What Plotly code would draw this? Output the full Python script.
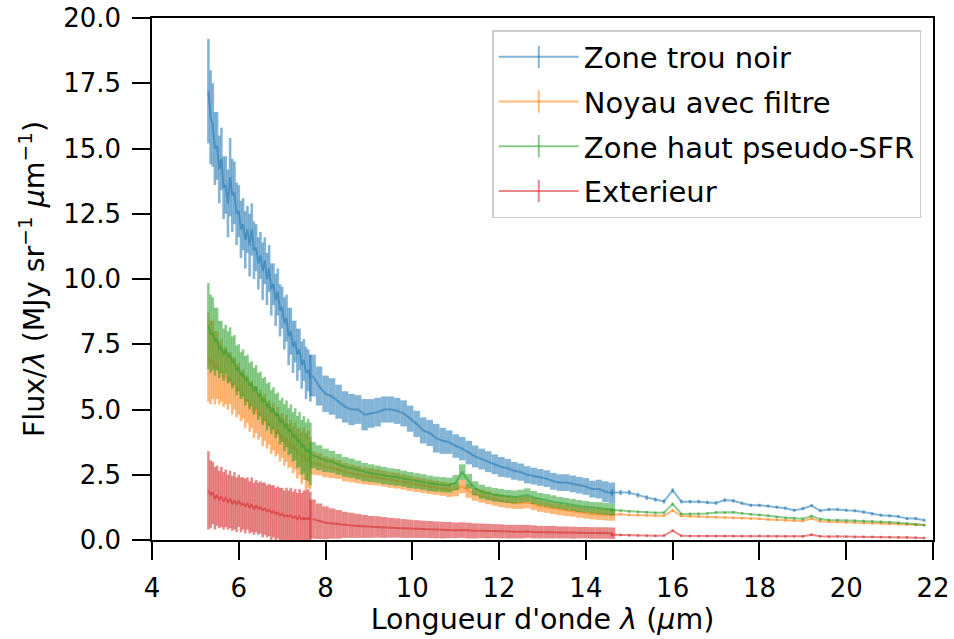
import plotly.graph_objects as go

# ---------------- data ----------------
WL1 = [5.30, 5.35, 5.40, 5.45, 5.50, 5.55, 5.60, 5.65,
       5.70, 5.75, 5.80, 5.85, 5.90, 5.95, 6.00, 6.05,
       6.10, 6.15, 6.20, 6.25, 6.30, 6.35, 6.40, 6.45,
       6.50, 6.55, 6.60, 6.65, 6.70, 6.75, 6.80, 6.85,
       6.90, 6.95, 7.00, 7.05, 7.10, 7.15, 7.20, 7.25,
       7.30, 7.35, 7.40, 7.45, 7.50, 7.55, 7.60, 7.65]

WL2 = [7.70, 7.85, 8.00, 8.15, 8.30, 8.45, 8.60, 8.75,
       8.90, 9.05, 9.20, 9.35, 9.50, 9.65, 9.80, 9.95,
       10.10, 10.25, 10.40, 10.55, 10.70, 10.85, 11.00, 11.15,
       11.30, 11.45, 11.60, 11.75, 11.90, 12.05, 12.20, 12.35,
       12.50, 12.65, 12.80, 12.95, 13.10, 13.25, 13.40, 13.55,
       13.70, 13.85, 14.00, 14.15, 14.30, 14.45, 14.60]

WL3 = [14.6,
       14.8, 15.0, 15.2, 15.4, 15.6, 15.8,
       16.0, 16.2, 16.4, 16.6, 16.8, 17.0,
       17.2, 17.4, 17.6, 17.8, 18.0, 18.2,
       18.4, 18.6, 18.8, 19.0, 19.2, 19.4,
       19.6, 19.8, 20.0, 20.2, 20.4, 20.6,
       20.8, 21.0, 21.2, 21.4, 21.6, 21.8]

# Zone trou noir
BLUE1 = [17.2, 16.2, 15.9, 15.0, 15.1, 14.2, 14.6, 13.5,
         13.6, 12.9, 13.9, 13.2, 13.3, 12.5, 12.6, 11.9,
         12.1, 11.5, 11.9, 11.3, 11.9, 11.1, 11.2, 10.6,
         10.9, 10.3, 10.7, 10.0, 10.4, 9.6, 9.8, 9.2,
         9.5, 8.8, 8.9, 8.3, 8.5, 7.8, 8.0, 7.4,
         7.6, 7.1, 7.3, 6.7, 6.9, 6.4, 6.5, 6.2]
BLUE1_ERR = [2.0, 1.8, 1.6, 1.4, 1.3, 1.3, 1.2, 1.2,
             1.1, 1.3, 1.5, 1.4, 1.2, 1.2, 1.0, 1.1,
             1.0, 1.1, 0.9, 1.2, 1.0, 1.1, 0.9, 1.0,
             0.9, 1.1, 0.9, 1.0, 0.9, 1.0, 0.8, 1.0,
             0.9, 1.0, 0.8, 1.0, 0.9, 1.1, 0.9, 1.0,
             0.8, 1.0, 0.8, 0.9, 0.8, 1.0, 0.8, 0.9]
BLUE2 = [6.3, 5.9, 5.6, 5.5, 5.3, 5.1, 5.0, 5.0,
         4.8, 4.85, 4.9, 5.0, 5.0, 4.95, 4.85, 4.65,
         4.45, 4.2, 4.1, 3.9, 3.8, 3.75, 3.6, 3.5,
         3.35, 3.2, 3.1, 3.0, 2.9, 2.8, 2.75, 2.65,
         2.6, 2.5, 2.45, 2.4, 2.35, 2.25, 2.2, 2.2,
         2.15, 2.1, 2.05, 1.95, 1.95, 1.85, 1.8]
BLUE2_ERR = [0.8, 0.75, 0.7, 0.7, 0.65, 0.6, 0.6, 0.55,
             0.6, 0.55, 0.55, 0.5, 0.5, 0.5, 0.5, 0.5,
             0.5, 0.5, 0.5, 0.55, 0.5, 0.45, 0.45, 0.45,
             0.45, 0.42, 0.4, 0.4, 0.38, 0.38, 0.36, 0.34,
             0.33, 0.33, 0.32, 0.32, 0.32, 0.32, 0.32, 0.32,
             0.32, 0.32, 0.32, 0.32, 0.36, 0.4, 0.4]
BLUE3 = [1.82,
         1.82, 1.82, 1.72, 1.62, 1.55, 1.48,
         1.90, 1.47, 1.47, 1.47, 1.44, 1.42,
         1.53, 1.50, 1.41, 1.33, 1.33, 1.30,
         1.26, 1.22, 1.14, 1.20, 1.32, 1.12,
         1.17, 1.17, 1.14, 1.12, 1.07, 1.00,
         0.95, 0.93, 0.90, 0.82, 0.82, 0.76]
BLUE3_ERR = [0.12,
             0.10, 0.10, 0.09, 0.09, 0.08, 0.08,
             0.08, 0.07, 0.07, 0.07, 0.07, 0.07,
             0.07, 0.07, 0.06, 0.06, 0.06, 0.06,
             0.06, 0.06, 0.06, 0.06, 0.06, 0.06,
             0.06, 0.06, 0.06, 0.06, 0.06, 0.06,
             0.06, 0.06, 0.06, 0.06, 0.06, 0.06]

# Noyau avec filtre
ORANGE1 = [7.0, 6.8, 6.9, 6.6, 6.7, 6.4, 6.5, 6.2,
           6.3, 6.1, 6.2, 5.9, 6.0, 5.7, 5.8, 5.5,
           5.6, 5.3, 5.4, 5.1, 5.2, 4.9, 5.0, 4.75,
           4.85, 4.55, 4.7, 4.4, 4.5, 4.2, 4.35, 4.05,
           4.2, 3.9, 4.0, 3.75, 3.9, 3.6, 3.7, 3.45,
           3.6, 3.3, 3.4, 3.15, 3.3, 3.0, 3.1, 2.95]
ORANGE1_ERR = [1.7, 1.6, 1.5, 1.4, 1.3, 1.2, 1.2, 1.1,
               1.1, 1.1, 1.0, 1.1, 1.0, 1.0, 1.0, 0.95,
               0.95, 1.0, 0.9, 0.95, 0.9, 1.0, 0.9, 0.9,
               0.9, 0.95, 0.9, 0.9, 0.85, 0.9, 0.9, 0.85,
               0.9, 0.9, 0.85, 0.9, 0.9, 0.85, 0.9, 0.9,
               0.9, 0.95, 0.9, 1.0, 1.0, 1.1, 1.1, 1.0]
ORANGE2 = [2.95, 2.9, 2.8, 2.75, 2.7, 2.6, 2.55, 2.5,
           2.45, 2.43, 2.4, 2.35, 2.3, 2.27, 2.22, 2.17,
           2.12, 2.08, 2.04, 2.0, 1.96, 1.92, 1.93, 2.05,
           1.88, 1.75, 1.68, 1.62, 1.55, 1.5, 1.46, 1.42,
           1.42, 1.45, 1.38, 1.3, 1.26, 1.21, 1.17, 1.13,
           1.1, 1.06, 1.03, 1.0, 0.99, 0.97, 0.96]
ORANGE2_ERR = [0.45, 0.42, 0.4, 0.38, 0.36, 0.35, 0.34, 0.33,
               0.32, 0.32, 0.31, 0.3, 0.3, 0.3, 0.29, 0.29,
               0.28, 0.28, 0.28, 0.27, 0.27, 0.27, 0.26, 0.26,
               0.26, 0.25, 0.25, 0.25, 0.24, 0.24, 0.24, 0.23,
               0.23, 0.23, 0.23, 0.22, 0.22, 0.22, 0.22, 0.21,
               0.21, 0.21, 0.21, 0.21, 0.22, 0.22, 0.22]
ORANGE3 = [0.98,
           0.99, 0.96, 0.95, 0.94, 0.93, 0.93,
           1.13, 0.92, 0.91, 0.90, 0.88, 0.87,
           0.86, 0.85, 0.84, 0.82, 0.81, 0.79,
           0.77, 0.75, 0.74, 0.73, 0.82, 0.72,
           0.70, 0.69, 0.68, 0.67, 0.66, 0.65,
           0.64, 0.62, 0.61, 0.60, 0.58, 0.57]
ORANGE3_ERR = [0.07,
               0.05, 0.05, 0.05, 0.05, 0.05, 0.05,
               0.05, 0.05, 0.05, 0.05, 0.05, 0.05,
               0.05, 0.05, 0.05, 0.05, 0.05, 0.05,
               0.05, 0.05, 0.05, 0.05, 0.05, 0.05,
               0.05, 0.05, 0.05, 0.05, 0.05, 0.05,
               0.05, 0.05, 0.05, 0.05, 0.05, 0.05]

# Zone haut pseudo-SFR
GREEN1 = [8.2, 7.9, 7.9, 7.6, 7.7, 7.3, 7.4, 7.1,
          7.3, 7.0, 7.1, 6.8, 6.9, 6.5, 6.6, 6.3,
          6.4, 6.1, 6.2, 5.9, 6.0, 5.7, 5.85, 5.5,
          5.6, 5.3, 5.4, 5.1, 5.2, 4.9, 5.05, 4.75,
          4.85, 4.5, 4.6, 4.3, 4.45, 4.15, 4.25, 3.95,
          4.05, 3.75, 3.85, 3.55, 3.65, 3.4, 3.45, 3.3]
GREEN1_ERR = [1.65, 1.5, 1.4, 1.3, 1.2, 1.1, 1.0, 1.0,
              0.95, 1.0, 1.05, 1.0, 0.95, 0.95, 0.9, 0.9,
              0.9, 0.95, 0.9, 0.9, 0.85, 0.9, 0.85, 0.9,
              0.85, 0.9, 0.85, 0.9, 0.85, 0.85, 0.8, 0.85,
              0.8, 0.85, 0.85, 0.9, 0.9, 0.9, 0.95, 0.95,
              1.0, 1.0, 1.05, 1.05, 1.1, 1.1, 1.2, 1.2]
GREEN2 = [3.25, 3.15, 3.05, 3.0, 2.9, 2.8, 2.75, 2.68,
          2.6, 2.56, 2.52, 2.47, 2.43, 2.4, 2.35, 2.3,
          2.26, 2.22, 2.17, 2.14, 2.12, 2.1, 2.2, 2.6,
          2.25, 1.98, 1.85, 1.78, 1.73, 1.7, 1.67, 1.65,
          1.68, 1.72, 1.63, 1.56, 1.52, 1.47, 1.42, 1.38,
          1.34, 1.3, 1.27, 1.24, 1.22, 1.19, 1.17]
GREEN2_ERR = [0.5, 0.48, 0.45, 0.42, 0.4, 0.38, 0.37, 0.36,
              0.35, 0.34, 0.33, 0.33, 0.32, 0.32, 0.31, 0.31,
              0.3, 0.3, 0.3, 0.29, 0.29, 0.29, 0.29, 0.3,
              0.28, 0.27, 0.27, 0.26, 0.26, 0.26, 0.25, 0.25,
              0.25, 0.26, 0.25, 0.24, 0.24, 0.24, 0.23, 0.23,
              0.23, 0.23, 0.22, 0.22, 0.23, 0.23, 0.23]
GREEN3 = [1.15,
          1.13, 1.09, 1.07, 1.06, 1.04, 1.05,
          1.38, 1.00, 1.00, 1.00, 1.02, 1.05,
          1.05, 1.06, 1.02, 0.98, 0.96, 0.93,
          0.88, 0.85, 0.83, 0.81, 0.92, 0.80,
          0.77, 0.77, 0.75, 0.74, 0.73, 0.71,
          0.70, 0.68, 0.66, 0.63, 0.60, 0.57]
GREEN3_ERR = [0.07,
              0.05, 0.05, 0.05, 0.05, 0.05, 0.05,
              0.05, 0.05, 0.05, 0.05, 0.05, 0.05,
              0.05, 0.05, 0.05, 0.05, 0.05, 0.05,
              0.05, 0.05, 0.05, 0.05, 0.05, 0.05,
              0.05, 0.05, 0.05, 0.05, 0.05, 0.05,
              0.05, 0.05, 0.05, 0.05, 0.05, 0.05]

# Exterieur
RED1 = [1.9, 1.75, 1.8, 1.6, 1.7, 1.55, 1.65, 1.5,
        1.6, 1.45, 1.55, 1.4, 1.5, 1.35, 1.5, 1.35,
        1.4, 1.3, 1.4, 1.25, 1.35, 1.2, 1.3, 1.2,
        1.25, 1.15, 1.2, 1.1, 1.15, 1.05, 1.1, 1.0,
        1.05, 0.95, 1.0, 0.9, 0.95, 0.9, 0.95, 0.85,
        0.9, 0.8, 0.9, 0.8, 0.85, 0.8, 0.85, 0.8]
RED1_ERR = [1.5, 1.3, 1.2, 1.2, 1.15, 1.1, 1.15, 1.1,
            1.1, 1.05, 1.1, 1.05, 1.1, 1.05, 1.0, 1.05,
            1.0, 1.05, 1.0, 1.0, 1.05, 1.0, 1.0, 1.0,
            1.0, 1.05, 1.0, 1.0, 1.0, 1.05, 1.0, 1.0,
            1.0, 1.05, 1.0, 1.0, 1.05, 1.0, 1.05, 1.0,
            1.05, 1.0, 1.05, 1.0, 1.05, 1.1, 1.1, 1.05]
RED2 = [0.8, 0.72, 0.66, 0.63, 0.6, 0.58, 0.56, 0.54,
        0.52, 0.5, 0.5, 0.48, 0.47, 0.46, 0.44, 0.43,
        0.42, 0.41, 0.4, 0.39, 0.38, 0.38, 0.37, 0.38,
        0.36, 0.35, 0.35, 0.34, 0.34, 0.33, 0.32, 0.32,
        0.32, 0.33, 0.31, 0.3, 0.3, 0.3, 0.29, 0.29,
        0.28, 0.28, 0.28, 0.27, 0.27, 0.27, 0.26]
RED2_ERR = [0.75, 0.68, 0.63, 0.58, 0.55, 0.5, 0.48, 0.46,
            0.44, 0.42, 0.41, 0.4, 0.38, 0.37, 0.36, 0.35,
            0.34, 0.33, 0.33, 0.32, 0.32, 0.31, 0.3, 0.3,
            0.3, 0.29, 0.28, 0.28, 0.27, 0.27, 0.26, 0.26,
            0.26, 0.25, 0.25, 0.24, 0.24, 0.24, 0.23, 0.23,
            0.23, 0.22, 0.22, 0.22, 0.22, 0.22, 0.22]
RED3 = [0.20,
        0.19, 0.18, 0.17, 0.16, 0.16, 0.17,
        0.36, 0.16, 0.15, 0.15, 0.15, 0.15,
        0.15, 0.15, 0.15, 0.15, 0.16, 0.15,
        0.14, 0.14, 0.14, 0.14, 0.20, 0.14,
        0.13, 0.14, 0.13, 0.12, 0.12, 0.12,
        0.11, 0.11, 0.10, 0.10, 0.09, 0.08]
RED3_ERR = [0.07,
            0.05, 0.05, 0.05, 0.05, 0.05, 0.05,
            0.05, 0.05, 0.05, 0.05, 0.05, 0.05,
            0.05, 0.05, 0.05, 0.05, 0.05, 0.05,
            0.05, 0.05, 0.05, 0.05, 0.05, 0.05,
            0.05, 0.05, 0.05, 0.05, 0.05, 0.05,
            0.05, 0.05, 0.05, 0.05, 0.05, 0.05]

SERIES_NAMES = ["Zone trou noir", "Noyau avec filtre", "Zone haut pseudo-SFR", "Exterieur"]
X_TICKS = [4, 6, 8, 10, 12, 14, 16, 18, 20, 22]
Y_TICKS = [0.0, 2.5, 5.0, 7.5, 10.0, 12.5, 15.0, 17.5, 20.0]

# ---------------- figure ----------------
COLORS = [(31, 119, 180), (255, 127, 14), (44, 160, 44), (214, 39, 40)]
SEGMENTS = [
    (WL1, [BLUE1, ORANGE1, GREEN1, RED1], [BLUE1_ERR, ORANGE1_ERR, GREEN1_ERR, RED1_ERR], 2.6),
    (WL2, [BLUE2, ORANGE2, GREEN2, RED2], [BLUE2_ERR, ORANGE2_ERR, GREEN2_ERR, RED2_ERR], 6.5),
    (WL3, [BLUE3, ORANGE3, GREEN3, RED3], [BLUE3_ERR, ORANGE3_ERR, GREEN3_ERR, RED3_ERR], 2.5),
]
for wl, vals, errs, th in SEGMENTS:
    for v, e in zip(vals, errs):
        assert len(wl) == len(v) == len(e), (len(wl), len(v), len(e))

FONT = "DejaVu Sans"
fig = go.Figure()

for i, name in enumerate(SERIES_NAMES):
    r, g, b = COLORS[i]
    col = f"rgba({r},{g},{b},0.55)"
    for wl, vals, errs, th in SEGMENTS:
        fig.add_trace(go.Scatter(
            x=wl, y=vals[i], mode="lines",
            line=dict(color=col, width=2),
            error_y=dict(type="data", array=errs[i], visible=True,
                         color=col, thickness=th, width=0),
            showlegend=False, legendgroup=name, hoverinfo="skip",
        ))

# legend entries (line + vertical bar like matplotlib errorbar handles)
for i, name in enumerate(SERIES_NAMES):
    r, g, b = COLORS[i]
    col = f"rgba({r},{g},{b},0.55)"
    fig.add_trace(go.Scatter(
        x=[None], y=[None], mode="lines+markers", name=name,
        line=dict(color=col, width=2),
        marker=dict(symbol="line-ns-open", size=18,
                    line=dict(color=col, width=2), color=col),
        legendgroup=name,
    ))

axis_common = dict(
    type="linear", automargin=False,
    showline=True, linecolor="black", linewidth=1.5, mirror=True,
    ticks="outside", ticklen=18, tickwidth=1.5, tickcolor="black",
    ticklabelstandoff=6,
    showgrid=False, zeroline=False,
    tickfont=dict(family=FONT, size=26, color="black"),
)

fig.update_layout(
    width=954, height=639,
    margin=dict(l=152, r=21, t=18, b=99),
    paper_bgcolor="white", plot_bgcolor="white",
    font=dict(family=FONT, color="black"),
    xaxis=dict(range=[4, 22], tickvals=X_TICKS,
               title=dict(text="Longueur d'onde <i>λ</i> (<i>µ</i>m)",
                          font=dict(family=FONT, size=28.5), standoff=6),
               **axis_common),
    yaxis=dict(range=[0, 20], tickvals=Y_TICKS, tickformat=".1f",
               title=dict(text="Flux/<i>λ</i> (MJy sr<sup>−1</sup> <i>µ</i>m<sup>−1</sup>)",
                          font=dict(family=FONT, size=28.5), standoff=10),
               **axis_common),
    legend=dict(x=0.985, y=0.977, xanchor="right", yanchor="top",
                bgcolor="rgba(255,255,255,0.85)", bordercolor="#cccccc", borderwidth=1.5,
                font=dict(family=FONT, size=29, color="black"),
                tracegroupgap=4, itemwidth=80),
)

fig.write_html("out.html", config={"displayModeBar": False},
               post_script="document.body.style.margin='0px';")
